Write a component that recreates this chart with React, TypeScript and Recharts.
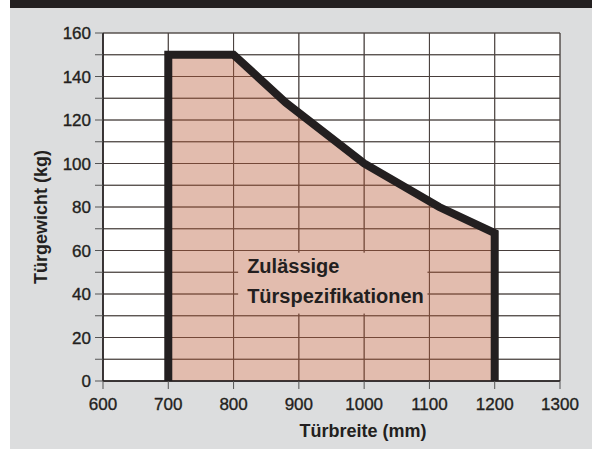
import React from 'react';
import { ComposedChart, Area, XAxis, YAxis, CartesianGrid, ReferenceArea, Label } from 'recharts';

// Door width (mm) vs. max door weight (kg) – outline of permitted region
const widthsMm = [700, 700, 800, 880, 1000, 1115, 1200, 1200];
const weightsKg = [0, 150, 150, 128, 100, 80, 68, 0];
const xTicks = [600, 700, 800, 900, 1000, 1100, 1200, 1300];
const yTicks = [0, 10, 20, 30, 40, 50, 60, 70, 80, 90, 100, 110, 120, 130, 140, 150, 160];
const labelLines = ['Zulässige', 'Türspezifikationen'];
const labelBoxX = [807, 1097];
const labelBoxY = [31, 59];
const xTitle = 'Türbreite (mm)';
const yTitle = 'Türgewicht (kg)';

const data = widthsMm.map((mm, i) => ({ mm, kg: weightsKg[i] }));

const FONT = '"Liberation Sans", Arial, sans-serif';
const INK = '#231f20';

const LabelBoxContent = (props: any) => {
  const vb = props.viewBox || {};
  return (
    <g>
      <rect x={vb.x} y={vb.y} width={vb.width} height={vb.height} fill="#e2bcae" />
      <text fontFamily={FONT} fontWeight="bold" fontSize={20} fill={INK}>
        <tspan x={vb.x + 9} y={vb.y + 20}>{labelLines[0]}</tspan>
        <tspan x={vb.x + 9} y={vb.y + 50}>{labelLines[1]}</tspan>
      </text>
    </g>
  );
};

const tickStyle = { fill: INK, fontSize: 17, fontFamily: FONT, stroke: INK, strokeWidth: 0.35 };

export default function App() {
  return (
    <div style={{ position: 'absolute', left: 0, top: 0, width: 592, height: 449, background: '#ffffff', overflow: 'hidden' }}>
      <div style={{ position: 'absolute', left: 10, top: 0, width: 582, height: 449, background: '#dcddde' }} />
      <div style={{ position: 'absolute', left: 10, top: 0, width: 582, height: 8, background: INK }} />
      <div style={{ position: 'absolute', left: 0, top: 0 }}>
        <ComposedChart width={592} height={449} data={data} margin={{ top: 33, right: 32, bottom: 28, left: 43 }}>
          <CartesianGrid stroke="#2e2e2e" strokeWidth={1} fill="#ffffff" fillOpacity={1} />
          <XAxis
            dataKey="mm"
            type="number"
            domain={[600, 1300]}
            ticks={xTicks}
            interval={0}
            height={40}
            tickSize={8}
            tickMargin={9}
            axisLine={{ stroke: INK, strokeWidth: 1.5 }}
            tickLine={{ stroke: '#555' }}
            tick={tickStyle}
          >
            <Label
              content={() => (
                <text x={363} y={437} textAnchor="middle" fontFamily={FONT} fontWeight="bold" fontSize={18} fill={INK}>
                  {xTitle}
                </text>
              )}
            />
          </XAxis>
          <YAxis
            type="number"
            domain={[0, 160]}
            ticks={yTicks}
            interval={0}
            width={60}
            tickSize={8}
            tickMargin={4}
            tickFormatter={(v: number) => (v % 20 === 0 ? String(v) : '')}
            axisLine={{ stroke: INK, strokeWidth: 1.5 }}
            tickLine={{ stroke: '#555' }}
            tick={tickStyle}
          >
            <Label
              content={() => (
                <text
                  x={47}
                  y={217}
                  transform="rotate(-90 47 217)"
                  textAnchor="middle"
                  fontFamily={FONT}
                  fontWeight="bold"
                  fontSize={18}
                  fill={INK}
                >
                  {yTitle}
                </text>
              )}
            />
          </YAxis>
          <Area
            type="linear"
            dataKey="kg"
            stroke="none"
            fill="#b75835"
            fillOpacity={0.4}
            dot={false}
            activeDot={false}
            isAnimationActive={false}
          />
          <CartesianGrid stroke="#5a4a45" strokeOpacity={0.6} strokeWidth={1} fill="none" />
          <Area
            type="linear"
            dataKey="kg"
            stroke={INK}
            strokeWidth={8}
            strokeLinejoin="miter"
            fill="none"
            fillOpacity={0}
            dot={false}
            activeDot={false}
            isAnimationActive={false}
          />
          <ReferenceArea
            x1={labelBoxX[0]}
            x2={labelBoxX[1]}
            y1={labelBoxY[0]}
            y2={labelBoxY[1]}
            fill="none"
            stroke="none"
            ifOverflow="visible"
            label={<LabelBoxContent />}
          />
        </ComposedChart>
      </div>
    </div>
  );
}
